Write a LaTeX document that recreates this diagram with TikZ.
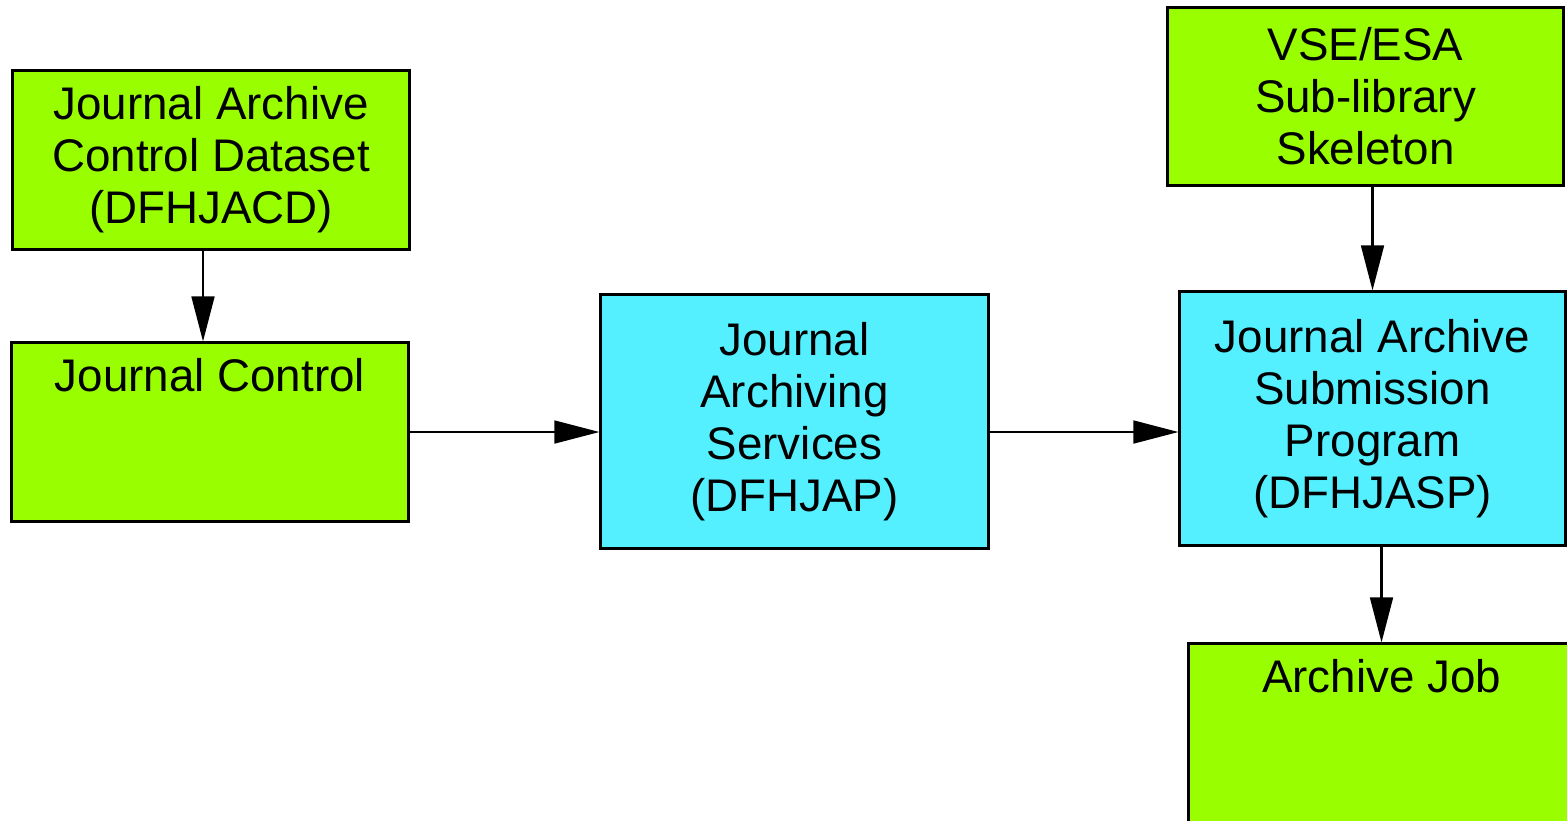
\documentclass[tikz,border=0pt]{standalone}
\usepackage{fontspec}
\setmainfont{Liberation Sans}
\usetikzlibrary{positioning,arrows.meta,calc}
\definecolor{storegreen}{RGB}{153,255,0}
\definecolor{progcyan}{RGB}{84,240,255}
\begin{document}
\begin{tikzpicture}[
x=0.01cm, y=-0.01cm,
box/.style={
  draw,
  line width=0.85pt,
  align=center,
  inner sep=0pt,
  font=\fontsize{13}{14.8}\selectfont
  },
store/.style={
  box,
  fill=storegreen,
  minimum width=3.96cm,
  minimum height=1.78cm
  },
prog/.style={
  box,
  fill=progcyan,
  minimum width=3.86cm,
  minimum height=2.53cm
  },
link/.style={
  ->,
  line width=0.6pt
  },
>={Triangle[length=12.8pt,width=6.5pt]}
]
\useasboundingbox (0,0) rectangle (1567,820);

\node[store] (acd) at (211,160) {Journal Archive\\Control Dataset\\(DFHJACD)};
\node[store] (jctl) at (210,432) {Journal Control\\~\\\vphantom{(}};
\node[prog, minimum width=3.87cm] (jap) at (794.5,421.5)
  {Journal\\Archiving\\Services\\(DFHJAP)};
\node[store, minimum width=3.95cm, minimum height=1.77cm] (skel) at (1365.5,96.5)
  {VSE/ESA\\Sub-library\\Skeleton};
\node[prog, minimum width=3.85cm] (jasp) at (1372.5,418.5)
  {Journal Archive\\Submission\\Program\\(DFHJASP)};
\node[store, minimum width=3.85cm] (job) at (1381.5,733)
  {Archive Job\\~\\\vphantom{(}};

\coordinate (acdout) at ($(acd.south)+(-8,0)$);
\draw[link] (acdout) -- (acdout |- jctl.north);
\draw[link] (jctl.east) -- (jctl.east -| jap.west);
\draw[link] (jctl.east -| jap.east) -- (jctl.east -| jasp.west);
\draw[link] (skel.south -| jasp.north) -- (jasp.north);
\draw[link] (jasp.south -| job.north) -- (job.north);
\end{tikzpicture}
\end{document}
